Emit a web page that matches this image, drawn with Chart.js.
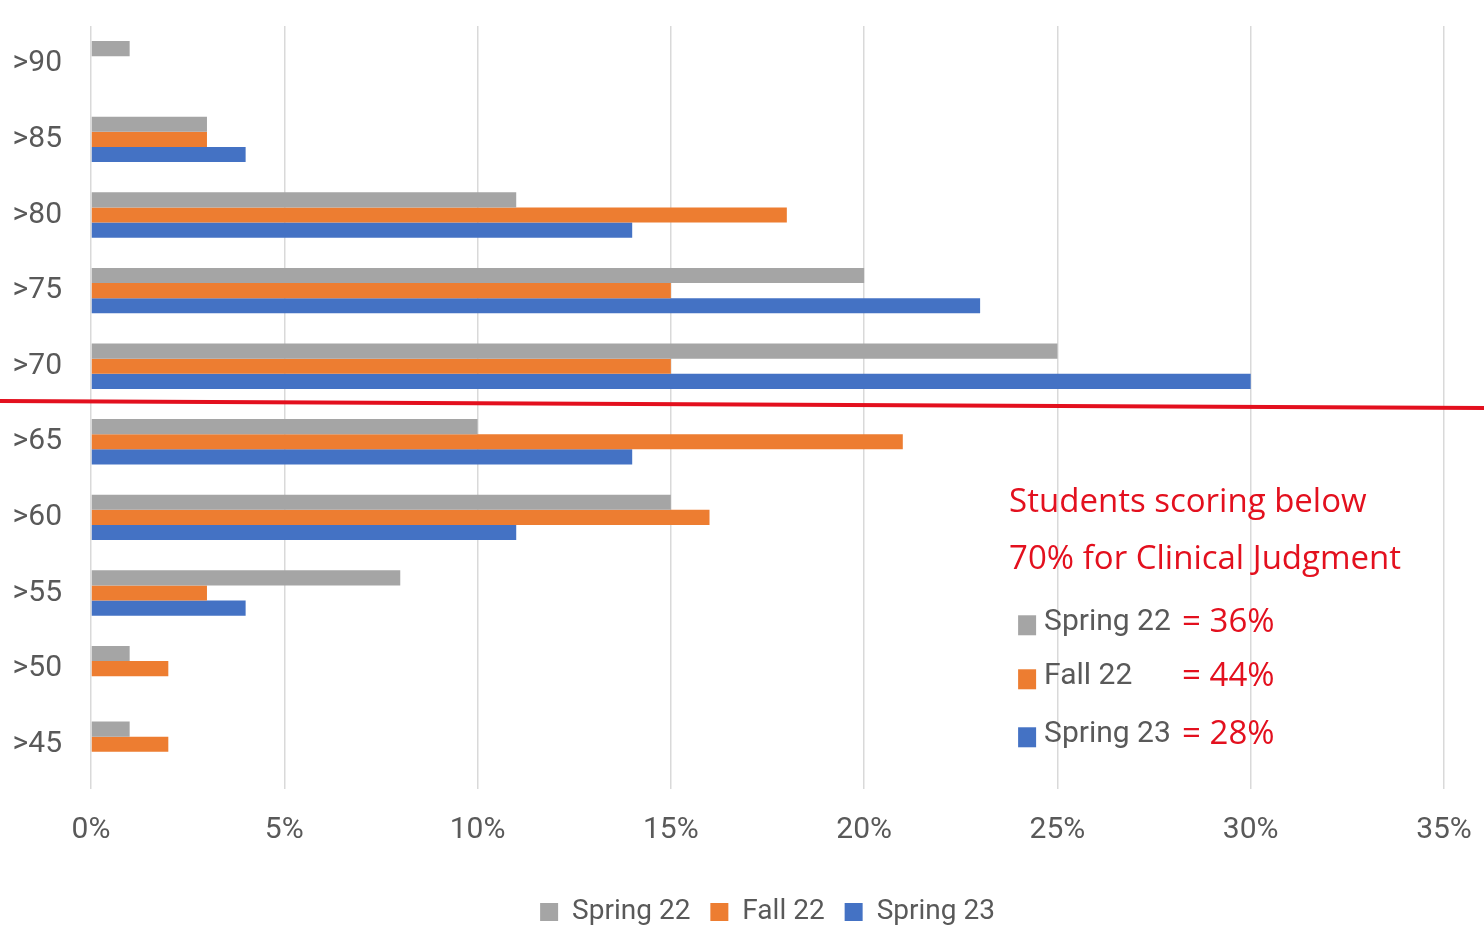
<!DOCTYPE html>
<html>
<head>
    <title>Clinical Judgment Scores</title>
    <script src="https://cdn.jsdelivr.net/npm/chart.js"></script>
    <style>
        body { margin: 0; background: #fff; }
        #wrap { width: 1484px; height: 929px; }
    </style>
</head>
<body>
    <div id="wrap"><canvas id="scoreChart"></canvas></div>
    <script type="text/javascript">
        var categories = ['>90', '>85', '>80', '>75', '>70', '>65', '>60', '>55', '>50', '>45'];
        var spring22 = [1, 3, 11, 20, 25, 10, 15, 8, 1, 1];
        var fall22 = [0, 3, 18, 15, 15, 21, 16, 3, 2, 2];
        var spring23 = [0, 4, 14, 23, 30, 14, 11, 4, 0, 0];
        var seriesNames = ['Spring 22', 'Fall 22', 'Spring 23'];
        var seriesColors = ['#a5a5a5', '#ed7d31', '#4472c4'];
        var belowSeventy = ['36%', '44%', '28%'];
        var noteLines = ['Students scoring below', '70% for Clinical Judgment'];

        var labelFont = "Roboto, 'Liberation Sans', sans-serif";
        var red = '#e3101e';

        // red cut-off line between >70 and >65
        var cutLine = {
            id: 'cutLine',
            afterDatasetsDraw: function(chart) {
                var y = chart.scales.y;
                var mid = (y.getPixelForValue(4) + y.getPixelForValue(5)) / 2;
                var ctx = chart.ctx;
                ctx.save();
                ctx.strokeStyle = red;
                ctx.lineWidth = 4;
                ctx.beginPath();
                ctx.moveTo(0, mid - 3);
                ctx.lineTo(chart.width, mid + 4);
                ctx.stroke();
                ctx.restore();
            }
        };

        // text box on the right
        var note = {
            id: 'note',
            afterDraw: function(chart) {
                var xs = chart.scales.x, ys = chart.scales.y;
                var band = ys.getPixelForValue(1) - ys.getPixelForValue(0);
                var x0 = xs.getPixelForValue(23.75);
                var y0 = ys.getPixelForValue(5) + band * 0.8;
                var ctx = chart.ctx;
                ctx.save();
                ctx.textBaseline = 'middle';
                ctx.textAlign = 'left';
                ctx.fillStyle = red;
                ctx.font = "33px 'Open Sans', sans-serif";
                ctx.fillText(noteLines[0], x0, y0);
                ctx.fillText(noteLines[1], x0, y0 + 57);
                var rows = [y0 + 120, y0 + 174, y0 + 232];
                for (var i = 0; i < seriesNames.length; i++) {
                    ctx.fillStyle = seriesColors[i];
                    ctx.fillRect(x0 + 9, rows[i] - 7, 18, 20);
                    ctx.fillStyle = '#595959';
                    ctx.font = '30px ' + labelFont;
                    ctx.fillText(seriesNames[i], x0 + 35, rows[i]);
                    ctx.fillStyle = red;
                    ctx.font = "33px 'Open Sans', sans-serif";
                    ctx.fillText('= ' + belowSeventy[i], x0 + 173, rows[i]);
                }
                ctx.restore();
            }
        };

        var ctx = document.getElementById('scoreChart').getContext('2d');
        var chart = new Chart(ctx, {
            type: 'bar',
            data: {
                labels: categories,
                datasets: [
                    { label: seriesNames[0], data: spring22, backgroundColor: seriesColors[0] },
                    { label: seriesNames[1], data: fall22, backgroundColor: seriesColors[1] },
                    { label: seriesNames[2], data: spring23, backgroundColor: seriesColors[2] }
                ]
            },
            options: {
                indexAxis: 'y',
                responsive: true,
                maintainAspectRatio: false,
                animation: false,
                datasets: { bar: { categoryPercentage: 0.6, barPercentage: 1.0 } },
                layout: { padding: { top: 26, right: 40, left: 0, bottom: -7 } },
                scales: {
                    x: {
                        min: 0,
                        max: 35,
                        grid: { color: '#d9d9d9', lineWidth: 1.5, tickLength: 7, tickColor: '#d9d9d9' },
                        border: { display: false },
                        ticks: {
                            stepSize: 5,
                            padding: 23,
                            color: '#595959',
                            font: { family: labelFont, size: 30 },
                            callback: function(v) { return v + '%'; }
                        },
                        afterFit: function(scale) {
                            scale.height = 96;
                            scale.paddingLeft = 0;
                            scale.paddingRight = 0;
                        }
                    },
                    y: {
                        grid: { display: false, drawTicks: false },
                        border: { display: false },
                        ticks: {
                            padding: 29,
                            color: '#595959',
                            font: { family: labelFont, size: 30 }
                        },
                        afterFit: function(scale) {
                            scale.width = 91;
                            scale.paddingTop = 0;
                            scale.paddingBottom = 0;
                        }
                    }
                },
                plugins: {
                    tooltip: { enabled: false },
                    legend: {
                        position: 'bottom',
                        fullSize: false,
                        labels: {
                            boxWidth: 18,
                            boxHeight: 18,
                            padding: 20,
                            color: '#595959',
                            font: { family: labelFont, size: 28 }
                        }
                    }
                }
            },
            plugins: [cutLine, note]
        });
    </script>
</body>
</html>
